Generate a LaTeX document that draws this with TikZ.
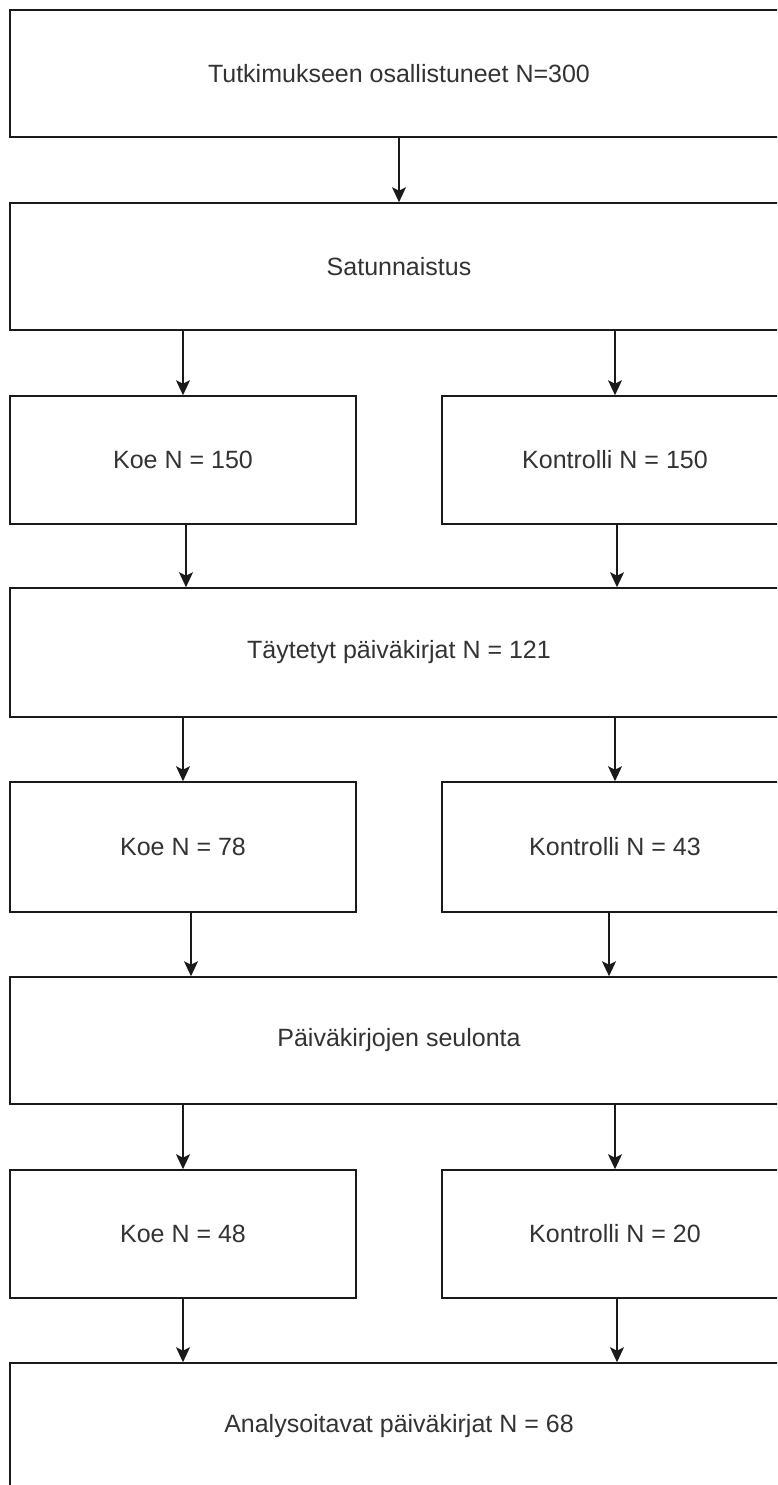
\documentclass[tikz,border=0pt]{standalone}
\usepackage{fontspec}
\setmainfont{Liberation Sans}
\usetikzlibrary{arrows.meta}
\definecolor{txt}{HTML}{333333}
\definecolor{ln}{HTML}{1A1A1A}
\tikzset{
  wbox/.style={draw=ln, line width=1.6pt, fill=white, minimum width=778pt, inner sep=0pt, text=txt, font=\fontsize{25}{30}\selectfont},
  sbox/.style={draw=ln, line width=1.6pt, fill=white, minimum width=346pt, inner sep=0pt, text=txt, font=\fontsize{25}{30}\selectfont},
  arr/.style={draw=ln, line width=1.6pt, -{Stealth[length=15pt,width=14pt,inset=3.5pt]}}
}
\begin{document}
\begin{tikzpicture}[x=1pt,y=-1pt]
\useasboundingbox (0,0) rectangle (777,1485);
\clip (0,0) rectangle (777,1485);
\fill[white] (0,0) rectangle (777,1485);
\node[wbox, minimum height=127pt] (b1) at (399,73.5) {Tutkimukseen osallistuneet N=300};
\node[wbox, minimum height=127pt] (b2) at (399,266.5) {Satunnaistus};
\node[sbox, minimum height=128pt] (l3) at (183,460) {Koe N = 150};
\node[sbox, minimum height=128pt] (r3) at (615,460) {Kontrolli N = 150};
\node[wbox, minimum height=129pt] (b4) at (399,652.5) {Täytetyt päiväkirjat N = 121};
\node[sbox, minimum height=130pt] (l5) at (183,847) {Koe N = 78};
\node[sbox, minimum height=130pt] (r5) at (615,847) {Kontrolli N = 43};
\node[wbox, minimum height=127pt] (b6) at (399,1040.5) {Päiväkirjojen seulonta};
\node[sbox, minimum height=128pt] (l7) at (183,1234) {Koe N = 48};
\node[sbox, minimum height=128pt] (r7) at (615,1234) {Kontrolli N = 20};
\node[wbox, minimum height=127pt] (b8) at (399,1426.5) {Analysoitavat päiväkirjat N = 68};
\draw[arr] (b1.south) -- (b2.north);
\draw[arr] (b2.south -| l3.north) -- (l3.north);
\draw[arr] (b2.south -| r3.north) -- (r3.north);
\draw[arr] ([xshift=3pt]l3.south) -- ([xshift=3pt]l3.south |- b4.north);
\draw[arr] ([xshift=2pt]r3.south) -- ([xshift=2pt]r3.south |- b4.north);
\draw[arr] (b4.south -| l5.north) -- (l5.north);
\draw[arr] (b4.south -| r5.north) -- (r5.north);
\draw[arr] ([xshift=8pt]l5.south) -- ([xshift=8pt]l5.south |- b6.north);
\draw[arr] ([xshift=-6pt]r5.south) -- ([xshift=-6pt]r5.south |- b6.north);
\draw[arr] (b6.south -| l7.north) -- (l7.north);
\draw[arr] (b6.south -| r7.north) -- (r7.north);
\draw[arr] (l7.south) -- (l7.south |- b8.north);
\draw[arr] ([xshift=2pt]r7.south) -- ([xshift=2pt]r7.south |- b8.north);
\end{tikzpicture}
\end{document}
